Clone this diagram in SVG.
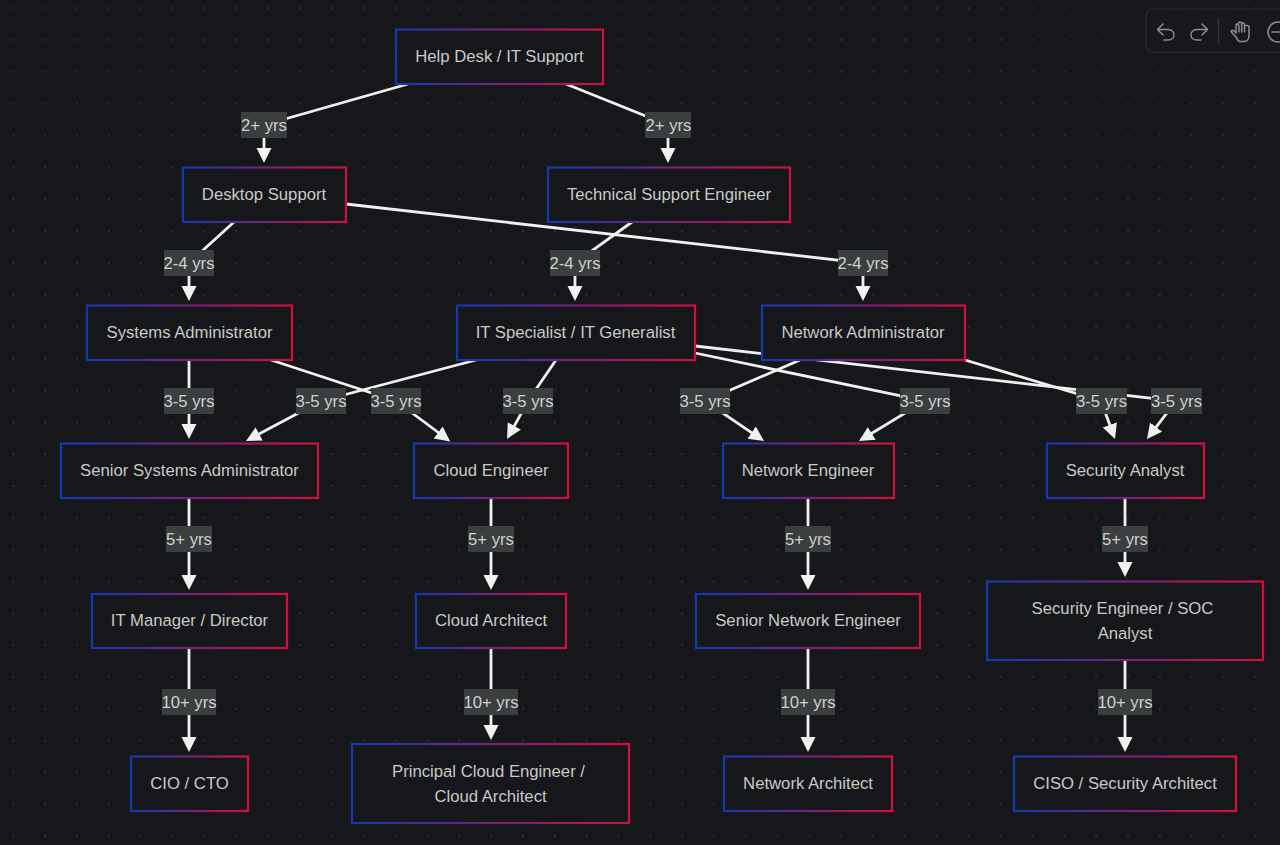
<svg xmlns="http://www.w3.org/2000/svg" width="1280" height="845" viewBox="0 0 1280 845">
<style>
text{font-family:"Liberation Sans",Arial,sans-serif;font-size:16.7px;text-anchor:middle;fill:#c9c9c6}
.n rect{fill:#15171a;stroke:url(#g);stroke-width:2.2}
.e{fill:none;stroke:#f0f0ee;stroke-width:2.8;marker-end:url(#a)}
.l rect{fill:#3b3e3f}
.l text{fill:#d0d0ce}
.t{fill:none;stroke:#8c8e90;stroke-width:1.500;stroke-linecap:round;stroke-linejoin:round}
.s{fill:none;stroke:#36383c;stroke-width:1.200}
</style>
<defs>
<linearGradient id="g" x1="0" y1="0" x2="1" y2="0"><stop offset="0" stop-color="#1538ae"/><stop offset="1" stop-color="#d20f3f"/></linearGradient>
<pattern id="d" x="12.4" y="7.2" width="31.85" height="31.85" patternUnits="userSpaceOnUse"><circle cx="0.8" cy="0.8" r="1.100" fill="#303338"/></pattern>
<marker id="a" markerUnits="userSpaceOnUse" markerWidth="16" markerHeight="16" refX="11" refY="7.5" orient="auto"><path d="M0 0L15 7.5L0 15Z" fill="#f0f0ee"/></marker>
</defs>
<rect width="1280" height="845" fill="#15171a"/>
<rect width="1280" height="845" fill="url(#d)"/>
<g id="toolbar">
<rect x="1146" y="9" width="150" height="43.500" rx="7" fill="#16181b" stroke="#2b2d31" stroke-width="1.200"/>
<path class="t" d="M1163 24L1157.500 29.500L1163 35M1158 29.500H1168C1176 30 1176 40 1168 40H1164"/>
<path class="t" d="M1202 24L1207.500 29.500L1202 35M1207 29.500H1197C1189 30 1189 40 1197 40H1201"/>
<path class="s" d="M1218.500 18V43"/>
<path class="t" d="M1236 37L1231 31.500C1232 29.500 1235 31 1236 33V25.500C1236 23.500 1238.500 23.500 1238.500 25.500V23.500C1238.500 21.500 1241.500 21.500 1241.500 23.500V24.500C1241.500 22.500 1244.500 22.500 1244.500 24.500V26.500C1244.500 25 1249 25 1249 27V36C1249 39 1247 41.500 1243.500 41.500H1240C1238 41.500 1237 39 1236 37ZM1239 26V32M1241.700 24.500V32M1244.500 26V32"/>
<circle class="t" cx="1278" cy="32" r="10"/>
<path class="t" d="M1272 32H1280"/>
</g>
<g id="connectors">
<path class="e" d="M408 84L264 125V159"/>
<path class="e" d="M566 84L668 125V159"/>
<path class="e" d="M234 222L189 263V297"/>
<path class="e" d="M346 204L863 263V297"/>
<path class="e" d="M632 222L575 263V297"/>
<path class="e" d="M189 360V435"/>
<path class="e" d="M271 360L396 401L447 439"/>
<path class="e" d="M476 360L321 401L249.500 439"/>
<path class="e" d="M556 360L528 401L509 435.500"/>
<path class="e" d="M695 353L925 401L862.400 439"/>
<path class="e" d="M695 346L1176 401L1149.400 435.800"/>
<path class="e" d="M800 360L705 401L760.700 438.800"/>
<path class="e" d="M965 360L1101 401L1113.600 435.200"/>
<path class="e" d="M189 498V586"/>
<path class="e" d="M491 498V586"/>
<path class="e" d="M808 498V586"/>
<path class="e" d="M1125 498V573"/>
<path class="e" d="M189 648V748"/>
<path class="e" d="M491 648V736"/>
<path class="e" d="M808 648V748"/>
<path class="e" d="M1125 660V748"/>
<g class="l">
<rect x="241" y="112" width="46" height="26"/><text x="264" y="131">2+ yrs</text>
<rect x="645" y="112" width="46" height="26"/><text x="668.500" y="131">2+ yrs</text>
<rect x="164" y="250" width="50" height="26"/><text x="189" y="269">2-4 yrs</text>
<rect x="550" y="250" width="50" height="26"/><text x="575" y="269">2-4 yrs</text>
<rect x="838" y="250" width="50" height="26"/><text x="863" y="269">2-4 yrs</text>
<rect x="164" y="388" width="50" height="26"/><text x="189" y="407">3-5 yrs</text>
<rect x="296" y="388" width="50" height="26"/><text x="321" y="407">3-5 yrs</text>
<rect x="371" y="388" width="50" height="26"/><text x="396" y="407">3-5 yrs</text>
<rect x="503" y="388" width="50" height="26"/><text x="528" y="407">3-5 yrs</text>
<rect x="680" y="388" width="50" height="26"/><text x="705" y="407">3-5 yrs</text>
<rect x="900" y="388" width="50" height="26"/><text x="925" y="407">3-5 yrs</text>
<rect x="1076" y="388" width="51" height="26"/><text x="1101.500" y="407">3-5 yrs</text>
<rect x="1151" y="388" width="51" height="26"/><text x="1176.500" y="407">3-5 yrs</text>
<rect x="166" y="526" width="46" height="26"/><text x="189" y="545">5+ yrs</text>
<rect x="468" y="526" width="46" height="26"/><text x="491" y="545">5+ yrs</text>
<rect x="785" y="526" width="46" height="26"/><text x="808" y="545">5+ yrs</text>
<rect x="1102" y="526" width="46" height="26"/><text x="1125" y="545">5+ yrs</text>
<rect x="162" y="689" width="54" height="26"/><text x="189" y="708">10+ yrs</text>
<rect x="464" y="689" width="54" height="26"/><text x="491" y="708">10+ yrs</text>
<rect x="781" y="689" width="54" height="26"/><text x="808" y="708">10+ yrs</text>
<rect x="1098" y="689" width="54" height="26"/><text x="1125" y="708">10+ yrs</text>
</g>
</g>
<g id="help-desk" class="n"><rect x="396" y="29.500" width="207" height="54.500"/><text x="499.500" y="62">Help Desk / IT Support</text></g>
<g id="desktop-support" class="n"><rect x="183" y="167.500" width="163" height="54.500"/><text x="264" y="200">Desktop Support</text></g>
<g id="tech-support" class="n"><rect x="548" y="167.500" width="242" height="54.500"/><text x="669" y="200">Technical Support Engineer</text></g>
<g id="sys-admin" class="n"><rect x="87" y="305.500" width="205" height="54.500"/><text x="189.500" y="338">Systems Administrator</text></g>
<g id="it-specialist" class="n"><rect x="457" y="305.500" width="238" height="54.500"/><text x="575.500" y="338">IT Specialist / IT Generalist</text></g>
<g id="net-admin" class="n"><rect x="762" y="305.500" width="203" height="54.500"/><text x="863" y="338">Network Administrator</text></g>
<g id="senior-sys-admin" class="n"><rect x="61" y="443.500" width="257" height="54.500"/><text x="189.500" y="476">Senior Systems Administrator</text></g>
<g id="cloud-engineer" class="n"><rect x="414" y="443.500" width="154" height="54.500"/><text x="491" y="476">Cloud Engineer</text></g>
<g id="network-engineer" class="n"><rect x="723" y="443.500" width="171" height="54.500"/><text x="808" y="476">Network Engineer</text></g>
<g id="security-analyst" class="n"><rect x="1047" y="443.500" width="157" height="54.500"/><text x="1125" y="476">Security Analyst</text></g>
<g id="it-manager" class="n"><rect x="92" y="594" width="195" height="54"/><text x="189.500" y="626">IT Manager / Director</text></g>
<g id="cloud-architect" class="n"><rect x="416" y="594" width="150" height="54"/><text x="491" y="626">Cloud Architect</text></g>
<g id="senior-network-engineer" class="n"><rect x="696" y="594" width="224" height="54"/><text x="808" y="626">Senior Network Engineer</text></g>
<g id="security-engineer" class="n"><rect x="987" y="581.500" width="276" height="78.500"/><text x="1122.500" y="614">Security Engineer / SOC</text><text x="1125" y="639">Analyst</text></g>
<g id="cio-cto" class="n"><rect x="131" y="756.500" width="117" height="54.500"/><text x="189.500" y="789">CIO / CTO</text></g>
<g id="principal-cloud-engineer" class="n"><rect x="352" y="744" width="277" height="79"/><text x="488.500" y="777">Principal Cloud Engineer /</text><text x="490.500" y="802">Cloud Architect</text></g>
<g id="network-architect" class="n"><rect x="724" y="756.500" width="168" height="54.500"/><text x="808" y="789">Network Architect</text></g>
<g id="ciso" class="n"><rect x="1014" y="756.500" width="222" height="54.500"/><text x="1125" y="789">CISO / Security Architect</text></g>
</svg>
